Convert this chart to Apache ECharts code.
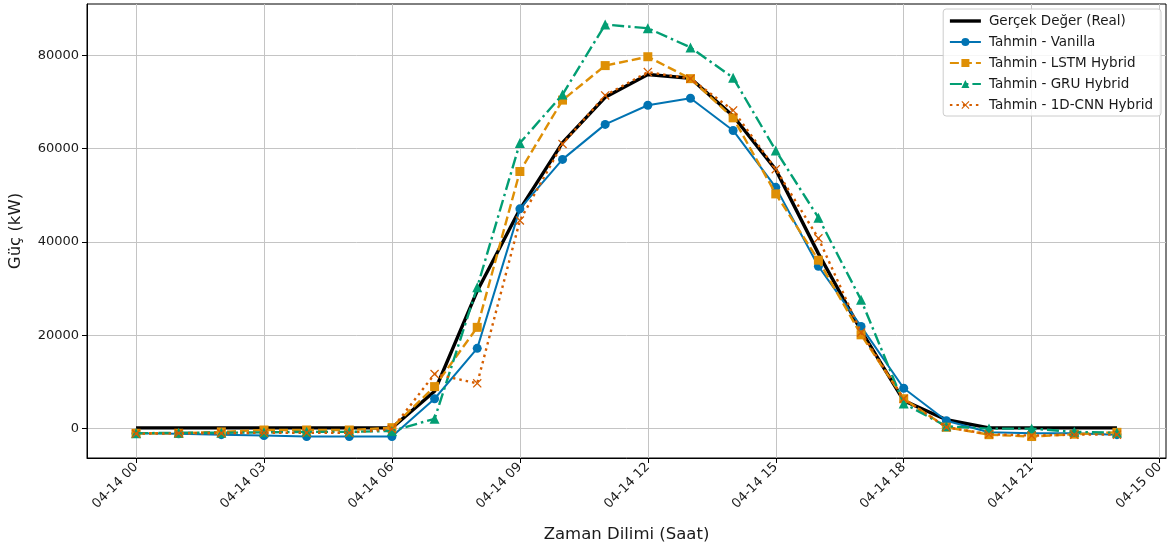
<!DOCTYPE html>
<html>
<head>
<meta charset="utf-8">
<script src="https://cdn.jsdelivr.net/npm/echarts@6/dist/echarts.min.js"></script>
<style>html,body{margin:0;padding:0;background:#fff;}#c{width:1169px;height:551px;}</style>
</head>
<body>
<div id="c"></div>
<script>
const hours = [0,1,2,3,4,5,6,7,8,9,10,11,12,13,14,15,16,17,18,19,20,21,22,23];
const xTicks = [0,3,6,9,12,15,18,21,24];
const yTicks = [0,20000,40000,60000,80000];
const real    = [150,150,150,150,150,150,150, 8000,29500,47000,61300,71000,75900,75100,67000,55500,37500,21000,6000,1900,150,150,150,150];
const vanilla = [-1000,-1100,-1300,-1500,-1700,-1700,-1700, 6400,17200,47100,57700,65200,69300,70800,63900,51700,34800,21900,8650,1700,-800,-1000,-1000,-1300];
const lstm    = [-1000,-1000,-700,-300,-300,-300,200, 9000,21700,55100,70400,77800,79700,75000,66600,50300,36100,20100,6400,300,-1300,-1700,-1200,-800];
const gru     = [-1000,-900,-900,-800,-700,-700,-500, 2100,30300,61200,71600,86600,85800,81700,75200,59600,45200,27600,5400,500,0,0,-700,-900];
const cnn     = [-1100,-1000,-1000,-900,-900,-900,-100, 11700,9700,44600,61000,71400,76400,75000,68200,55600,40800,20600,6400,300,-1200,-1500,-1300,-1300];

const pair = arr => hours.map((h, i) => [h, arr[i]]);
const pad = n => (n < 10 ? '0' : '') + n;
const fmtX = v => v >= 24 ? '04-15 ' + pad(v - 24) : '04-14 ' + pad(v);
const FONT = 'DejaVu Sans';
const xMark = 'path://M0,1 L1,0 L5,4 L9,0 L10,1 L6,5 L10,9 L9,10 L5,6 L1,10 L0,9 L4,5 Z';

const chart = echarts.init(document.getElementById('c'), null, {renderer: 'canvas'});
chart.setOption({
  animation: false,
  backgroundColor: '#fff',
  textStyle: {fontFamily: FONT},
  grid: {left: 87, right: 3, top: 4, bottom: 93, outerBoundsMode: 'none', containLabel: false,
         show: true, borderColor: '#000', borderWidth: 1, backgroundColor: 'transparent'},
  legend: {
    right: 8, top: 9, orient: 'vertical',
    backgroundColor: 'rgba(255,255,255,0.85)', borderColor: '#cccccc', borderWidth: 1, borderRadius: 3,
    padding: [5, 8, 4, 5], itemGap: 7, itemWidth: 31, itemHeight: 10,
    textStyle: {fontFamily: FONT, fontSize: 13.5, color: '#1a1a1a', padding: [0, 0, 0, 3]},
    data: [
      {name: 'Gerçek Değer (Real)', itemStyle: {opacity: 0, color: 'rgba(0,0,0,0)', borderWidth: 0}, lineStyle: {width: 3.4}},
      'Tahmin - Vanilla', 'Tahmin - LSTM Hybrid', 'Tahmin - GRU Hybrid', 'Tahmin - 1D-CNN Hybrid'
    ]
  },
  xAxis: {
    type: 'value', min: -1.15, max: 24.15,
    name: 'Zaman Dilimi (Saat)', nameLocation: 'middle', nameGap: 68,
    nameTextStyle: {fontFamily: FONT, fontSize: 16.5, color: '#1a1a1a'},
    axisLine: {show: true, onZero: false, lineStyle: {color: '#000', width: 1}},
    axisTick: {show: true, length: 5, lineStyle: {color: '#000'}, customValues: xTicks},
    axisLabel: {rotate: 45, fontFamily: FONT, fontSize: 13, color: '#1a1a1a', margin: 7, customValues: xTicks, formatter: fmtX},
    splitLine: {show: true, lineStyle: {color: '#c4c4c4', width: 1}}
  },
  yAxis: {
    type: 'value', min: -6300, max: 91000,
    name: 'Güç (kW)', nameLocation: 'middle', nameGap: 63, nameRotate: 90,
    nameTextStyle: {fontFamily: FONT, fontSize: 16.5, color: '#1a1a1a'},
    axisLine: {show: true, onZero: false, lineStyle: {color: '#000', width: 1}},
    axisTick: {show: true, length: 5, lineStyle: {color: '#000'}, customValues: yTicks},
    axisLabel: {fontFamily: FONT, fontSize: 13, color: '#1a1a1a', margin: 8, customValues: yTicks, formatter: v => String(v)},
    splitLine: {show: true, lineStyle: {color: '#c4c4c4', width: 1}}
  },
  series: [
    {name: 'Gerçek Değer (Real)', type: 'line', data: pair(real), symbol: 'none', color: '#000',
     lineStyle: {color: '#000', width: 3.4}, z: 2},
    {name: 'Tahmin - Vanilla', type: 'line', data: pair(vanilla), symbol: 'circle', symbolSize: 9, color: '#0173b2',
     lineStyle: {color: '#0173b2', width: 2}, itemStyle: {color: '#0173b2'}, z: 3},
    {name: 'Tahmin - LSTM Hybrid', type: 'line', data: pair(lstm), symbol: 'rect', symbolSize: 9, color: '#de8f05',
     lineStyle: {color: '#de8f05', width: 2.4, type: [9, 4]}, itemStyle: {color: '#de8f05'}, z: 4},
    {name: 'Tahmin - GRU Hybrid', type: 'line', data: pair(gru), symbol: 'triangle', symbolSize: 10, color: '#029e73',
     lineStyle: {color: '#029e73', width: 2.4, type: [12, 4, 2.5, 4]}, itemStyle: {color: '#029e73'}, z: 5},
    {name: 'Tahmin - 1D-CNN Hybrid', type: 'line', data: pair(cnn), symbol: xMark, symbolSize: 9, color: '#d55e00',
     lineStyle: {color: '#d55e00', width: 2.4, type: [2.5, 4]}, itemStyle: {color: '#d55e00'}, z: 6}
  ]
});
</script>
</body>
</html>
